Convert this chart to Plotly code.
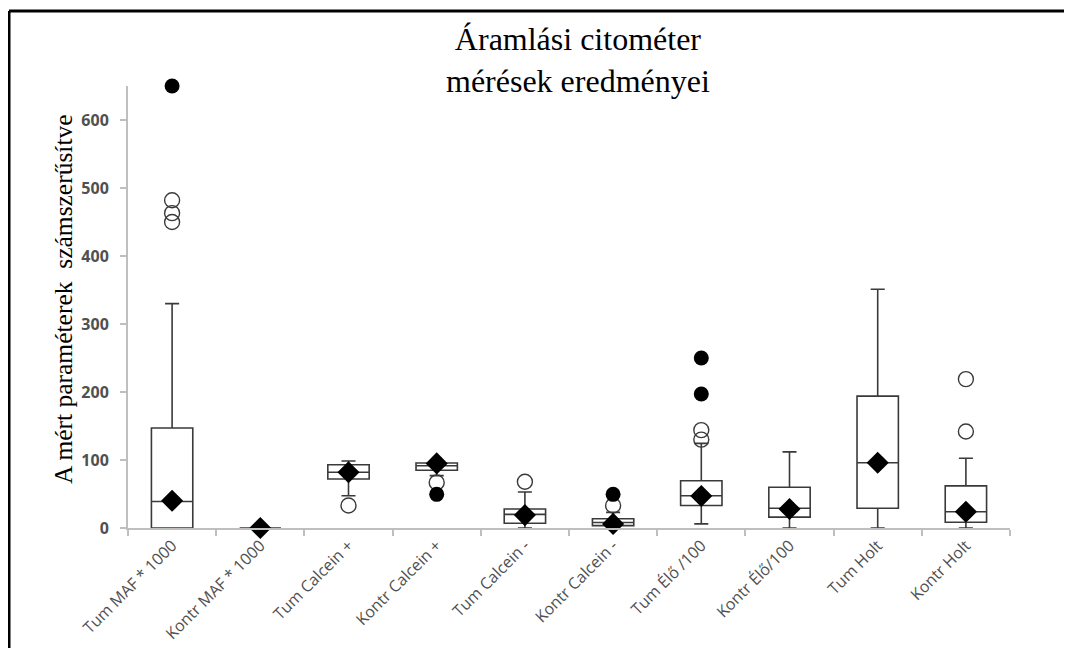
import plotly.graph_objects as go

categories = ["Tum MAF * 1000", "Kontr MAF * 1000", "Tum Calcein +", "Kontr Calcein +",
              "Tum Calcein -", "Kontr Calcein -", "Tum Élő /100", "Kontr Élő/100",
              "Tum Holt", "Kontr Holt"]
q1 = [0, 0, 72, 85, 7, 3.5, 33, 16, 29, 8.5]
median = [39, 0, 82, 91.5, 20, 8, 47.5, 29, 96, 24]
q3 = [147, 0, 93, 95.5, 28, 13.5, 69.5, 60, 194, 62]
lower_whisker = [0, 0, 47.5, 77, 0, 0, 6, 0, 0, 0]
upper_whisker = [330, 0, 98.5, 97, 53, 23, 124.5, 112, 351, 102.5]
means = [40, 0, 82, 95, 19, 6, 47, 28, 96, 24]

open_out_x = ["Tum MAF * 1000", "Tum MAF * 1000", "Tum MAF * 1000", "Tum Calcein +",
              "Kontr Calcein +", "Tum Calcein -", "Kontr Calcein -", "Tum Élő /100",
              "Tum Élő /100", "Kontr Holt", "Kontr Holt"]
open_out_y = [482, 463, 450, 33, 67, 68, 33, 144, 130, 142, 219]
filled_out_x = ["Tum MAF * 1000", "Kontr Calcein +", "Kontr Calcein -", "Tum Élő /100", "Tum Élő /100"]
filled_out_y = [650, 49.5, 49.5, 197, 250]

ytick_vals = [0, 100, 200, 300, 400, 500, 600]
title_text = "Áramlási citométer<br>mérések eredményei"
ytitle_text = "A mért paraméterek  számszerűsítve"

# page body has an 8px margin; work in screen coordinates and convert
OFF = 8
W, H = 1064, 640
L, R, T, B = 128 - OFF, 62, 86 - OFF, 120
pw, ph = W - L - R, H - T - B


def px(xscreen):
    return (xscreen - OFF - L) / pw


def py(yscreen):
    return (H - B - (yscreen - OFF)) / ph


box_col = "#3a3a3a"
axis_col = "#bfbfbf"
tick_font_col = "#505050"

fig = go.Figure()
fig.add_trace(go.Box(
    x=categories, q1=q1, median=median, q3=q3,
    lowerfence=lower_whisker, upperfence=upper_whisker,
    boxpoints=False, whiskerwidth=0.34,
    line=dict(color=box_col, width=1.6), fillcolor="white",
    showlegend=False, hoverinfo="skip",
))
fig.add_trace(go.Scatter(
    x=open_out_x, y=open_out_y, mode="markers", cliponaxis=False,
    marker=dict(symbol="circle-open", size=15, color=box_col, line=dict(width=1.4)),
    showlegend=False,
))
fig.add_trace(go.Scatter(
    x=filled_out_x, y=filled_out_y, mode="markers", cliponaxis=False,
    marker=dict(symbol="circle", size=15, color="black"),
    showlegend=False,
))
fig.add_trace(go.Scatter(
    x=categories, y=means, mode="markers", cliponaxis=False,
    marker=dict(symbol="diamond", size=17, color="black"),
    showlegend=False,
))

fig.update_layout(
    width=W, height=H, autosize=False,
    margin=dict(l=L, r=R, t=T, b=B),
    paper_bgcolor="white", plot_bgcolor="white",
    boxgap=0.33,
    xaxis=dict(type="category", categoryorder="array", categoryarray=categories,
               range=[-0.5, 9.5], showgrid=False, zeroline=False, automargin=False,
               showline=True, linecolor=axis_col, linewidth=2,
               ticks="outside", tickson="boundaries", ticklen=6, tickcolor=axis_col, tickwidth=1.5,
               tickangle=-45,
               tickfont=dict(family="Open Sans", size=16, color=tick_font_col)),
    yaxis=dict(range=[0, 650], showgrid=False, zeroline=False, automargin=False,
               showline=True, linecolor=axis_col, linewidth=2,
               ticks="outside", ticklen=6, tickcolor=axis_col, tickwidth=1.5,
               tickvals=ytick_vals, ticklabelstandoff=8,
               tickfont=dict(family="Open Sans", size=16, color=tick_font_col, weight="bold")),
    annotations=[
        dict(text=title_text, xref="paper", yref="paper", x=px(578), y=py(60),
             xanchor="center", yanchor="middle", showarrow=False,
             font=dict(family="Liberation Serif", size=32, color="black")),
        dict(text=ytitle_text, xref="paper", yref="paper", x=px(63), y=py(299),
             xanchor="center", yanchor="middle", showarrow=False, textangle=-90,
             font=dict(family="Liberation Serif", size=25.5, color="black")),
    ],
    shapes=[
        dict(type="line", xref="paper", yref="paper", x0=px(9), x1=px(1080), y0=py(11), y1=py(11),
             line=dict(color="black", width=3)),
        dict(type="line", xref="paper", yref="paper", x0=px(9), x1=px(9), y0=py(11), y1=py(660),
             line=dict(color="black", width=3)),
    ],
)

fig.write_html("out.html")
